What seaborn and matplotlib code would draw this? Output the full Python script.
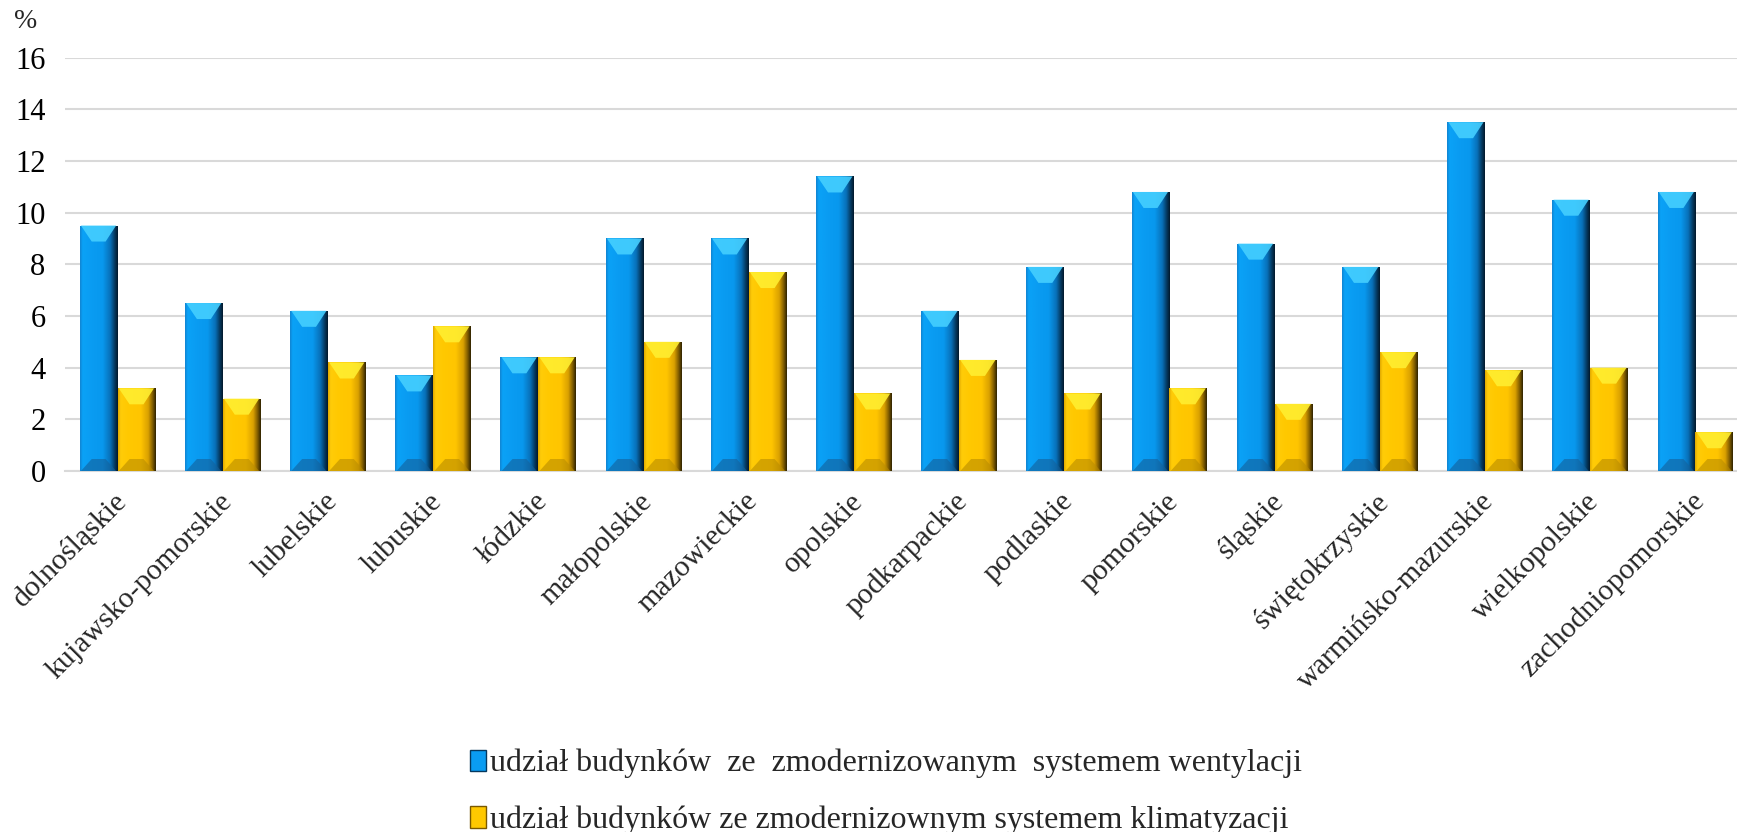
import numpy as np
import pandas as pd
import matplotlib
matplotlib.use("Agg")
import matplotlib.pyplot as plt
import matplotlib.transforms as mtransforms
from matplotlib.colors import LinearSegmentedColormap
from matplotlib.patches import Polygon, Patch
import seaborn as sns

# --- data -------------------------------------------------------------
regions = [
    "dolnośląskie", "kujawsko-pomorskie", "lubelskie", "lubuskie", "łódzkie",
    "małopolskie", "mazowieckie", "opolskie", "podkarpackie", "podlaskie",
    "pomorskie", "śląskie", "świętokrzyskie", "warmińsko-mazurskie",
    "wielkopolskie", "zachodniopomorskie",
]
ventilation = [9.5, 6.5, 6.2, 3.7, 4.4, 9.0, 9.0, 11.4, 6.2, 7.9,
               10.8, 8.8, 7.9, 13.5, 10.5, 10.8]
air_conditioning = [3.2, 2.8, 4.2, 5.6, 4.4, 5.0, 7.7, 3.0, 4.3, 3.0,
                    3.2, 2.6, 4.6, 3.9, 4.0, 1.5]
series_names = [
    "udział budynków  ze  zmodernizowanym  systemem wentylacji",
    "udział budynków ze zmodernizownym systemem klimatyzacji",
]
y_ticks = [0, 2, 4, 6, 8, 10, 12, 14, 16]

df = pd.DataFrame({
    "region": regions * 2,
    "value": ventilation + air_conditioning,
    "series": [series_names[0]] * len(regions) + [series_names[1]] * len(regions),
})

# --- style ------------------------------------------------------------
BLUE = "#0A9CF2"
GOLD = "#FFC800"
shading = {
    BLUE: dict(
        side=["#1283d0", "#0aa2f7", "#0a9cf2", "#0898ee", "#0870b8", "#05385e", "#02182a"],
        top="#45CFFF", bottom="#14609a"),
    GOLD: dict(
        side=["#e0a800", "#ffcc08", "#ffc800", "#ffc500", "#d9a000", "#7a5800", "#2e2200"],
        top="#FFEE30", bottom="#b88c00"),
}
side_stops = [0.0, 0.07, 0.3, 0.6, 0.8, 0.92, 1.0]

sns.set_theme(style="white")
plt.rcParams["font.family"] = ["Liberation Serif", "DejaVu Serif"]
FS = 21.5

W, H = 1737, 832
fig = plt.figure(figsize=(W / 100, H / 100), dpi=100)
ax_left, ax_right, ax_top, ax_bottom = 65, 1748, 57.6, 471
ax = fig.add_axes([ax_left / W, 1 - ax_bottom / H,
                   (ax_right - ax_left) / W, (ax_bottom - ax_top) / H])

sns.barplot(data=df, x="region", y="value", hue="series",
            palette=[BLUE, GOLD], width=0.72, saturation=1,
            legend=False, ax=ax, linewidth=0, zorder=3)

ax.set_ylim(0, 16)
ax.set_xlim(-0.5, len(regions) - 0.5)

# pixel -> data conversion for the bevel geometry
px_x = 1.0 / ((ax_right - ax_left) / len(regions))
px_y = 16.0 / (ax_bottom - ax_top)

for bar in list(ax.patches):
    fc = matplotlib.colors.to_hex(bar.get_facecolor())
    key = BLUE if fc.lower() == BLUE.lower() else GOLD
    sh = shading[key]
    x0, w, h = bar.get_x(), bar.get_width(), bar.get_height()
    x1 = x0 + w
    # horizontal shading across the bar face
    cmap = LinearSegmentedColormap.from_list("s", list(zip(side_stops, sh["side"])))
    grad = np.linspace(0, 1, 256).reshape(1, -1)
    im = ax.imshow(grad, cmap=cmap, extent=[x0, x1, 0, h], aspect="auto",
                   interpolation="bilinear", zorder=3.5, origin="lower")
    im.set_clip_path(bar)
    # top bevel
    d_top = min(16 * px_y, h)
    ins = 12 * px_x
    ax.add_patch(Polygon([(x0 + 1.2 * px_x, h), (x1 - 1.5 * px_x, h),
                          (x1 - ins, h - d_top), (x0 + ins, h - d_top)],
                         closed=True, facecolor=sh["top"], edgecolor="none",
                         alpha=0.9, zorder=4))
    # bottom bevel
    d_bot = 12 * px_y
    ax.add_patch(Polygon([(x0 + 1.2 * px_x, 0), (x1 - 1.5 * px_x, 0),
                          (x1 - ins, d_bot), (x0 + ins, d_bot)],
                         closed=True, facecolor=sh["bottom"], edgecolor="none",
                         alpha=0.6, zorder=4))

ax.set_ylim(0, 16)
ax.set_xlim(-0.5, len(regions) - 0.5)

# grid and axes
ax.set_yticks(y_ticks)
ax.set_yticklabels([str(t) for t in y_ticks], fontsize=22)
ax.yaxis.grid(True, color="#d9d9d9", linewidth=1.5, zorder=0)
ax.set_axisbelow(True)
for s in ["top", "right", "left"]:
    ax.spines[s].set_visible(False)
ax.spines["bottom"].set_color("#d9d9d9")
ax.spines["bottom"].set_linewidth(1.5)
ax.tick_params(axis="y", length=0, pad=14, colors="black")
ax.tick_params(axis="x", length=0, pad=19)
ax.set_xlabel("")
ax.set_ylabel("")
ax.set_xticks(range(len(regions)))
ax.set_xticklabels(regions, rotation=45, ha="right", va="center",
                   rotation_mode="anchor", fontsize=FS)
shift = mtransforms.ScaledTranslation(5 / 100, 0, fig.dpi_scale_trans)
for lbl in ax.get_xticklabels():
    lbl.set_transform(lbl.get_transform() + shift)

fig.text(26 / W, 1 - 22 / H, "%", fontsize=20, ha="center", va="center")

# legend
handles = [Patch(facecolor=BLUE, edgecolor="#05385e", linewidth=1),
           Patch(facecolor=GOLD, edgecolor="#7a5800", linewidth=1)]
fig.legend(handles, series_names, loc="center", bbox_to_anchor=(886 / W, 1 - 792 / H),
           ncol=1, frameon=False, fontsize=23, handlelength=0.5, handleheight=0.65,
           handletextpad=0.15, labelspacing=0.85, borderaxespad=0)

fig.savefig("out.png", dpi=100, facecolor="white")
